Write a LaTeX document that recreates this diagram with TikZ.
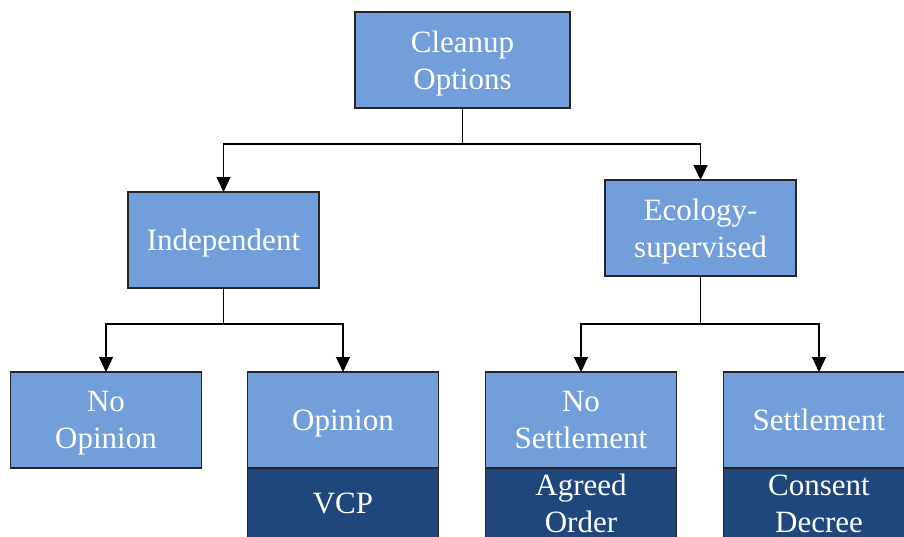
\documentclass[tikz,border=0pt]{standalone}
\usepackage{fontspec}
\setmainfont{Liberation Serif}
\usetikzlibrary{arrows.meta}
\definecolor{lightblue}{HTML}{729FDA}
\definecolor{darkblue}{HTML}{1F477C}
\begin{document}
\begin{tikzpicture}[x=1pt,y=-1pt,
  box/.style={draw=black!85, line width=1.2pt, fill=lightblue,
    minimum width=191pt, minimum height=96pt, inner sep=0pt, outer sep=0pt},
  subbox/.style={box, fill=darkblue, minimum height=72pt},
  txt/.style={text=white, inner sep=0pt, align=center,
    font=\fontsize{31}{37}\selectfont},
  conn/.style={line width=1.2pt, -{Triangle[length=15pt,width=14pt]}},
  plainline/.style={line width=1.2pt}]
\useasboundingbox (0,0) rectangle (904,536);
\clip (0,0) rectangle (904,536);
\node[box, minimum width=215pt] (root) at (462.5,60) {};
\node[box] (ind) at (223.5,240) {};
\node[box] (eco) at (700.5,228) {};
\node[box] (noop) at (106,420) {};
\node[box] (op) at (343,420) {};
\node[box] (nos) at (581,420) {};
\node[box] (set) at (819,420) {};
\node[subbox, anchor=north] (vcp) at (op.south) {};
\node[subbox, anchor=north] (ao) at (nos.south) {};
\node[subbox, anchor=north] (cd) at (set.south) {};
\node[txt] (rootT) at ([yshift=-4pt]root.center) {Cleanup\\Options};
\node[txt] (indT) at ([yshift=-3pt]ind.center) {Independent};
\node[txt] (ecoT) at ([yshift=-3.5pt]eco.center) {Ecology-\\supervised};
\node[txt] (noopT) at ([yshift=-3pt]noop.center) {No\\Opinion};
\node[txt] (opT) at ([yshift=-3.5pt]op.center) {Opinion};
\node[txt] (nosT) at ([yshift=0pt]nos.center) {No\\Settlement};
\node[txt] (setT) at ([yshift=0pt]set.center) {Settlement};
\node[txt] (vcpT) at ([yshift=0.5pt]vcp.center) {VCP};
\node[txt] (aoT) at ([yshift=1pt]ao.center) {Agreed\\Order};
\node[txt] (cdT) at ([yshift=0pt]cd.center) {Consent\\Decree};
\coordinate (j1) at (462.5,144);
\coordinate (j2) at (223.5,324);
\coordinate (j3) at (700.5,324);
\draw[plainline] (root.south) -- (j1);
\draw[conn] (j1) -| (ind.north);
\draw[conn] (j1) -| (eco.north);
\draw[plainline] (ind.south) -- (j2);
\draw[conn] (j2) -| (noop.north);
\draw[conn] (j2) -| (op.north);
\draw[plainline] (eco.south) -- (j3);
\draw[conn] (j3) -| (nos.north);
\draw[conn] (j3) -| (set.north);
\end{tikzpicture}
\end{document}
